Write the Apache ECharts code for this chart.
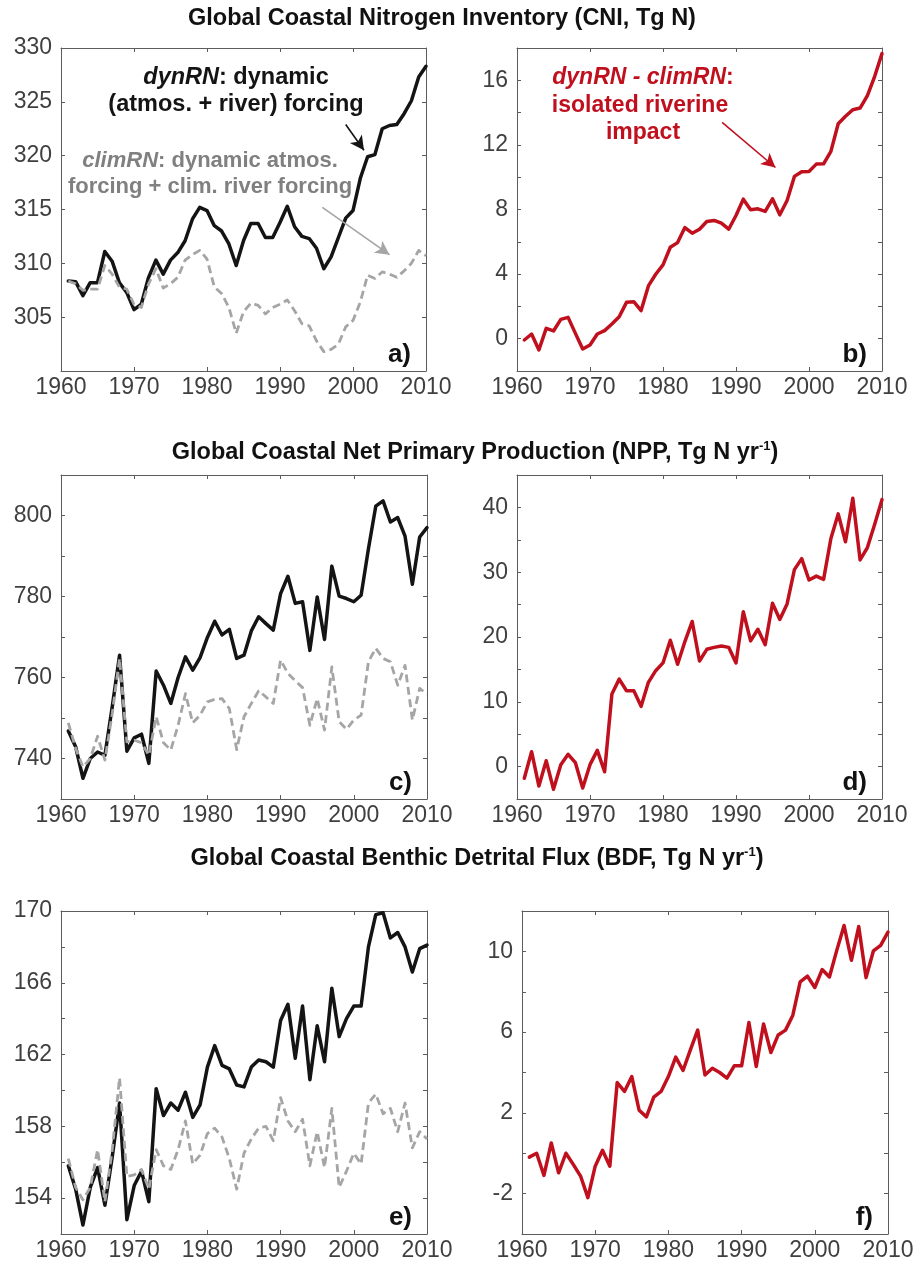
<!DOCTYPE html>
<html>
<head>
<meta charset="utf-8">
<script src="https://cdn.jsdelivr.net/npm/echarts@6/dist/echarts.min.js"></script>
<style>
  html, body { margin: 0; padding: 0; background: #ffffff; }
  #chart { width: 924px; height: 1266px; }
</style>
</head>
<body>
<div id="chart"></div>
<script>
// Model years (annual means)
const years = [1961, 1962, 1963, 1964, 1965, 1966, 1967, 1968, 1969, 1970,
               1971, 1972, 1973, 1974, 1975, 1976, 1977, 1978, 1979, 1980,
               1981, 1982, 1983, 1984, 1985, 1986, 1987, 1988, 1989, 1990,
               1991, 1992, 1993, 1994, 1995, 1996, 1997, 1998, 1999, 2000,
               2001, 2002, 2003, 2004, 2005, 2006, 2007, 2008, 2009, 2010];

// Coastal nitrogen inventory (Tg N)
const cniDyn = [308.35, 308.3, 307.0, 308.2, 308.2, 311.1, 310.2, 308.2, 307.3, 305.7,
                306.2, 308.7, 310.3, 309.0, 310.3, 311.0, 312.1, 314.1, 315.2, 314.9,
                313.5, 313.0, 311.8, 309.8, 312.1, 313.7, 313.7, 312.4, 312.4, 313.8,
                315.3, 313.4, 312.5, 312.3, 311.4, 309.5, 310.6, 312.4, 314.2, 314.9,
                317.9, 319.9, 320.1, 322.5, 322.8, 322.9, 323.9, 325.1, 327.3, 328.3];
const cniClim = [308.35, 308.1, 307.5, 307.6, 307.6, 309.8, 309.0, 307.8, 307.6, 306.2,
                 305.9, 308.1, 309.5, 307.7, 308.1, 308.7, 310.3, 310.8, 311.2, 310.4,
                 307.8, 307.2, 305.9, 303.5, 305.5, 306.3, 306.1, 305.3, 305.9, 306.2,
                 306.6, 305.6, 304.4, 304.2, 302.8, 301.8, 302.0, 302.5, 304.1, 304.7,
                 306.4, 308.9, 308.6, 309.2, 309.0, 308.7, 309.3, 310.0, 311.2, 310.7];
const cniDiff = [-0.08, 0.29, -0.70, 0.64, 0.48, 1.20, 1.32, 0.33, -0.64, -0.39,
                 0.29, 0.50, 0.91, 1.36, 2.25, 2.29, 1.74, 3.27, 3.99, 4.57,
                 5.66, 5.95, 6.88, 6.53, 6.78, 7.26, 7.32, 7.15, 6.78, 7.63,
                 8.64, 7.98, 8.04, 7.88, 8.66, 7.67, 8.56, 10.05, 10.34, 10.36,
                 10.81, 10.83, 11.60, 13.31, 13.77, 14.18, 14.28, 15.05, 16.25, 17.65];

// Coastal net primary production (Tg N yr-1)
const nppDyn = [746.8, 742.9, 735.1, 740.0, 741.6, 740.8, 752.8, 765.5, 741.8, 745.1,
                746.0, 738.8, 761.6, 758.1, 753.6, 760.0, 765.1, 761.8, 764.9, 769.9,
                773.9, 770.5, 771.9, 764.7, 765.5, 771.5, 775.0, 773.3, 771.7, 780.7,
                785.0, 778.3, 778.7, 766.7, 779.9, 769.4, 787.5, 780.1, 779.5, 778.7,
                780.3, 791.8, 802.3, 803.6, 798.4, 799.5, 794.9, 783.0, 794.7, 797.0];
const nppClim = [748.8, 742.5, 737.9, 740.0, 745.5, 739.6, 751.1, 764.7, 744.1, 744.5,
                 743.9, 740.8, 750.3, 743.9, 742.1, 748.2, 756.0, 748.8, 750.7, 754.0,
                 754.6, 754.8, 752.3, 742.2, 750.3, 753.6, 756.7, 755.2, 753.6, 764.3,
                 761.0, 759.2, 757.5, 748.2, 754.8, 747.0, 762.6, 749.1, 747.2, 749.5,
                 750.7, 763.9, 767.2, 764.7, 763.9, 758.1, 763.0, 749.5, 757.3, 755.9];
const nppDiff = [-1.8, 2.3, -3.0, 0.9, -3.5, 0.3, 1.9, 0.6, -3.3, 0.3,
                 2.5, -0.8, 11.2, 13.5, 11.7, 11.7, 9.3, 13.0, 14.8, 16.0,
                 19.5, 15.8, 19.3, 22.4, 16.3, 18.1, 18.4, 18.6, 18.4, 16.0,
                 23.9, 19.4, 21.2, 18.8, 25.2, 22.7, 25.1, 30.4, 32.1, 28.8,
                 29.4, 28.9, 35.2, 39.0, 34.7, 41.4, 31.9, 33.8, 37.4, 41.2];

// Coastal benthic detrital flux (Tg N yr-1)
const bdfDyn = [155.8, 154.5, 152.5, 154.6, 155.7, 153.6, 156.3, 159.3, 152.8, 154.7,
                155.5, 153.8, 160.1, 158.6, 159.3, 158.9, 159.9, 158.5, 159.2, 161.3,
                162.5, 161.4, 161.2, 160.3, 160.2, 161.3, 161.7, 161.6, 161.3, 163.9,
                164.8, 161.8, 164.7, 160.6, 163.6, 161.6, 165.7, 163.0, 164.0, 164.7,
                164.7, 168.0, 169.8, 169.9, 168.5, 168.8, 168.0, 166.6, 167.9, 168.1];
const bdfClim = [156.2, 154.6, 153.9, 154.6, 156.7, 153.8, 156.7, 160.7, 155.2, 155.3,
                 155.6, 154.5, 156.7, 155.8, 155.6, 156.7, 158.3, 155.9, 156.4, 157.6,
                 157.9, 157.4, 156.2, 154.5, 156.5, 157.3, 157.9, 158.0, 157.2, 159.6,
                 158.3, 157.7, 158.4, 155.8, 157.7, 155.7, 159.0, 154.6, 155.5, 156.5,
                 155.9, 159.3, 159.8, 158.7, 159.0, 157.7, 159.3, 156.8, 157.7, 157.3];
const bdfDiff = [-0.19, 0.0, -1.1, 0.51, -0.97, 0.0, -0.55, -1.13, -2.2, -0.64,
                 0.15, -0.64, 3.5, 3.06, 3.8, 2.13, 1.8, 2.78, 3.06, 3.8,
                 4.76, 4.1, 5.12, 6.1, 3.88, 4.21, 4.0, 3.72, 4.33, 4.33,
                 6.48, 4.3, 6.4, 4.99, 5.86, 6.1, 6.84, 8.49, 8.77, 8.21,
                 9.1, 8.73, 10.05, 11.28, 9.56, 11.23, 8.7, 10.02, 10.3, 10.95];

// Labelled ticks
const yearTicks = [1960, 1970, 1980, 1990, 2000, 2010];
const cniTicks = [305, 310, 315, 320, 325, 330];
const cniDiffTicks = [0, 4, 8, 12, 16];
const nppTicks = [740, 760, 780, 800];
const nppDiffTicks = [0, 10, 20, 30, 40];
const bdfTicks = [154, 158, 162, 166, 170];
const bdfDiffTicks = [-2, 2, 6, 10];

const FONT = '"Liberation Sans", Arial, Helvetica, sans-serif';
const BLACK = '#141414';
const GREY = '#a5a5a5';
const RED = '#c0101e';
const AXIS = '#5c5c5c';
const TICKTXT = '#3f3f3f';

// Panel layout: axis ranges and where each box sits
const panels = [
  { tag: 'a)', box: { left: 61, top: 48, width: 365, height: 323 }, min: 300, max: 330, step: 5, labels: cniTicks, dyn: cniDyn, clim: cniClim },
  { tag: 'b)', box: { left: 517, top: 48, width: 365, height: 323 }, min: -2, max: 18, step: 2, labels: cniDiffTicks, diff: cniDiff },
  { tag: 'c)', box: { left: 61, top: 475, width: 366, height: 324 }, min: 730, max: 810, step: 10, labels: nppTicks, dyn: nppDyn, clim: nppClim },
  { tag: 'd)', box: { left: 517, top: 475, width: 365, height: 324 }, min: -5, max: 45, step: 5, labels: nppDiffTicks, diff: nppDiff },
  { tag: 'e)', box: { left: 61, top: 911, width: 366, height: 323 }, min: 152, max: 170, step: 2, labels: bdfTicks, dyn: bdfDyn, clim: bdfClim },
  { tag: 'f)', box: { left: 522, top: 911, width: 366, height: 323 }, min: -4, max: 12, step: 2, labels: bdfDiffTicks, diff: bdfDiff }
];

const pairs = vals => years.map((y, k) => [y, vals[k]]);

const grid = [], xAxis = [], yAxis = [], series = [];

panels.forEach((p, i) => {
  grid.push(Object.assign({ containLabel: false }, p.box));
  const axLine = { show: true, onZero: false, lineStyle: { color: AXIS, width: 1 } };
  const tick = { show: true, inside: true, length: 4, lineStyle: { color: AXIS, width: 1 } };
  ['bottom', 'top'].forEach((pos, j) => {
    xAxis.push({
      type: 'value', gridIndex: i, position: pos, min: 1960, max: 2010, interval: 10,
      axisLine: axLine, axisTick: tick, splitLine: { show: false },
      axisLabel: {
        show: j === 0, margin: 5, color: TICKTXT, fontSize: 23, fontFamily: FONT,
        formatter: v => (yearTicks.includes(v) ? String(v) : '')
      }
    });
  });
  ['left', 'right'].forEach((pos, j) => {
    yAxis.push({
      type: 'value', gridIndex: i, position: pos, min: p.min, max: p.max, interval: p.step,
      axisLine: axLine, axisTick: tick, splitLine: { show: false },
      axisLabel: {
        show: j === 0, margin: 9, color: TICKTXT, fontSize: 23, fontFamily: FONT,
        formatter: v => (p.labels.includes(v) ? String(v) : '')
      }
    });
  });
  const base = { type: 'line', xAxisIndex: 2 * i, yAxisIndex: 2 * i, showSymbol: false, symbol: 'none', silent: true, z: 3 };
  if (p.dyn) {
    series.push(Object.assign({}, base, {
      name: 'dynRN', data: pairs(p.dyn),
      lineStyle: { color: BLACK, width: 3.5, join: 'round', cap: 'round' }
    }));
    series.push(Object.assign({}, base, {
      name: 'climRN', data: pairs(p.clim), z: 4,
      lineStyle: { color: GREY, width: 2.8, type: [8, 4.5], join: 'round' }
    }));
  } else {
    series.push(Object.assign({}, base, {
      name: 'dynRN - climRN', data: pairs(p.diff),
      lineStyle: { color: RED, width: 3.5, join: 'round', cap: 'round' }
    }));
  }
});

// Annotation arrows, given in data coordinates of their panel
function arrow(seriesIdx, from, to, color) {
  series[seriesIdx].markLine = {
    silent: true, symbol: ['none', 'arrow'], symbolSize: [11, 14],
    label: { show: false },
    lineStyle: { color: color, width: 1.6, type: 'solid' },
    data: [[{ coord: from }, { coord: to }]]
  };
}
arrow(0, [1999.0, 322.9], [2001.5, 320.5], BLACK);
arrow(1, [1995.8, 315.2], [2005.0, 310.8], GREY);
arrow(2, [1988.1, 13.4], [1995.4, 10.6], RED);

// Text helpers
function txt(x, y, text, rich, align) {
  return {
    type: 'text', x: x, y: y, silent: true, z: 10,
    style: { text: text, rich: rich, align: align || 'center', verticalAlign: 'middle',
             textAlign: align || 'center', textVerticalAlign: 'middle' }
  };
}
function face(size, color, italic, bold) {
  return { fontSize: size, fontFamily: FONT, fontWeight: bold === false ? 'normal' : 'bold',
           fontStyle: italic ? 'italic' : 'normal', fill: color, color: color };
}
const titleRich = {
  t: Object.assign(face(23.5, '#111111'), { lineHeight: 26, verticalAlign: 'middle' }),
  s: Object.assign(face(13, '#111111'), { lineHeight: 26, verticalAlign: 'top' })
};

const graphic = [
  txt(442, 19, '{t|Global Coastal Nitrogen Inventory (CNI, Tg N)}', titleRich),
  txt(475, 453, '{t|Global Coastal Net Primary Production (NPP, Tg N yr}{s|-1}{t|)}', titleRich),
  txt(477, 859, '{t|Global Coastal Benthic Detrital Flux (BDF, Tg N yr}{s|-1}{t|)}', titleRich),

  txt(236, 78, '{i|dynRN}{b|: dynamic}', { i: face(23.5, BLACK, true), b: face(23.5, BLACK) }),
  txt(236, 105, '{b|(atmos. + river) forcing}', { b: face(23.5, BLACK) }),
  txt(210, 161, '{i|climRN}{b|: dynamic atmos.}', { i: face(22, '#808080', true), b: face(22, '#808080') }),
  txt(210, 187, '{b|forcing + clim. river forcing}', { b: face(22, '#808080') }),

  txt(643, 78, '{i|dynRN - climRN}{b|:}', { i: face(23, RED, true), b: face(23, RED) }),
  txt(640, 106, '{b|isolated riverine}', { b: face(23, RED) }),
  txt(643, 133, '{b|impact}', { b: face(23, RED) })
];

// Panel letters in the lower-right corner of each box
panels.forEach(p => {
  graphic.push(txt(p.box.left + p.box.width - 15, p.box.top + p.box.height - 16,
                   '{b|' + p.tag + '}', { b: face(26, '#111111') }, 'right'));
});

const chart = echarts.init(document.getElementById('chart'), null, { renderer: 'canvas' });
chart.setOption({
  animation: false,
  backgroundColor: '#ffffff',
  grid: grid,
  xAxis: xAxis,
  yAxis: yAxis,
  series: series,
  graphic: graphic
});
</script>
</body>
</html>
